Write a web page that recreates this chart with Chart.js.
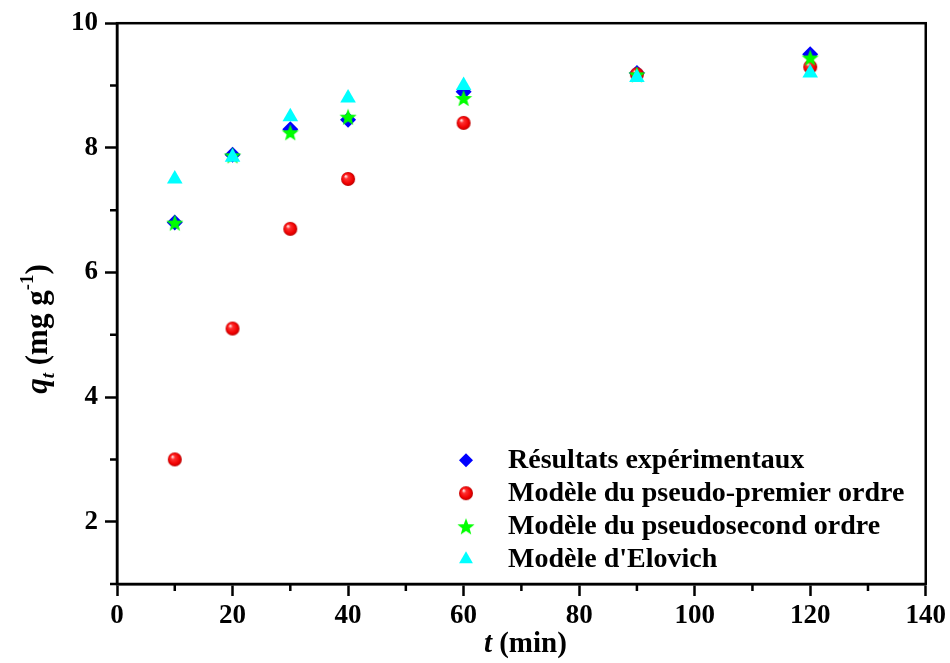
<!DOCTYPE html>
<html>
<head>
<meta charset="utf-8">
<script src="https://cdn.jsdelivr.net/npm/chart.js@4.4.1/dist/chart.umd.min.js"></script>
<style>
  html, body { margin: 0; padding: 0; background: #fff; }
</style>
</head>
<body>
<canvas id="kinetics" width="950" height="663"></canvas>
<script>
// values
const times = [10, 20, 30, 40, 60, 90, 120];
const experimental = [6.80, 7.89, 8.30, 8.45, 8.90, 9.20, 9.50];
const pseudoFirst = [3.00, 5.10, 6.70, 7.50, 8.40, 9.18, 9.30];
const pseudoSecond = [6.80, 7.88, 8.25, 8.50, 8.80, 9.18, 9.45];
const elovich = [7.50, 7.85, 8.50, 8.80, 9.00, 9.13, 9.20];
const seriesLabels = [
    'Résultats expérimentaux',
    'Modèle du pseudo-premier ordre',
    'Modèle du pseudosecond ordre',
    "Modèle d'Elovich"
];
const xLabeled = [0, 20, 40, 60, 80, 100, 120, 140];
const yLabeled = [2, 4, 6, 8, 10];

const SERIF = '"Liberation Serif", "Times New Roman", serif';

function makeSphere(r) {
    const c = document.createElement('canvas');
    c.width = c.height = 2 * r + 2;
    const g = c.getContext('2d');
    const m = r + 1;
    const grad = g.createRadialGradient(m - r * 0.35, m - r * 0.4, 0.5, m, m, r);
    grad.addColorStop(0, '#ffe0e0');
    grad.addColorStop(0.25, '#ff3030');
    grad.addColorStop(0.75, '#f00000');
    grad.addColorStop(1, '#b80000');
    g.fillStyle = grad;
    g.beginPath();
    g.arc(m, m, r, 0, Math.PI * 2);
    g.fill();
    return c;
}

function makeStar(r, color) {
    const c = document.createElement('canvas');
    c.width = c.height = 2 * r + 2;
    const g = c.getContext('2d');
    const m = r + 1;
    g.fillStyle = color;
    g.beginPath();
    for (let i = 0; i < 10; i++) {
        const rad = i % 2 === 0 ? r : r * 0.42;
        const a = -Math.PI / 2 + i * Math.PI / 5;
        const px = m + Math.cos(a) * rad;
        const py = m + 1 + Math.sin(a) * rad;
        if (i === 0) g.moveTo(px, py); else g.lineTo(px, py);
    }
    g.closePath();
    g.fill();
    return c;
}

const sphere = makeSphere(7);
const star = makeStar(9, '#00ff00');

function toPoints(values) {
    return times.map((t, i) => ({ x: t, y: values[i] }));
}

// draws a run of text pieces (italic / sub / sup) centred on cx
function drawRich(ctx, parts, cx, baseY) {
    let total = 0;
    parts.forEach(p => {
        ctx.font = `${p.italic ? 'italic ' : ''}bold ${p.size}px ${SERIF}`;
        p.w = ctx.measureText(p.text).width;
        total += p.w;
    });
    let x = cx - total / 2;
    parts.forEach(p => {
        ctx.font = `${p.italic ? 'italic ' : ''}bold ${p.size}px ${SERIF}`;
        ctx.fillText(p.text, x, baseY + (p.dy || 0));
        x += p.w;
    });
}

const decorations = {
    id: 'decorations',
    beforeDatasetsDraw(chart) {
        const { ctx, chartArea: a, scales: { x, y } } = chart;
        ctx.save();
        ctx.strokeStyle = '#000';
        ctx.lineWidth = 2.5;
        ctx.strokeRect(a.left, a.top, a.right - a.left, a.bottom - a.top);
        // minor ticks
        ctx.beginPath();
        x.ticks.forEach(t => {
            if (!xLabeled.includes(t.value)) {
                const px = x.getPixelForValue(t.value);
                ctx.moveTo(px, a.bottom);
                ctx.lineTo(px, a.bottom + 7);
            }
        });
        y.ticks.forEach(t => {
            if (!yLabeled.includes(t.value)) {
                const py = y.getPixelForValue(t.value);
                ctx.moveTo(a.left, py);
                ctx.lineTo(a.left - 7, py);
            }
        });
        ctx.stroke();
        ctx.restore();
    },
    afterDraw(chart) {
        const { ctx, chartArea: a } = chart;
        ctx.save();
        ctx.fillStyle = '#000';
        ctx.textBaseline = 'alphabetic';
        ctx.textAlign = 'left';

        // x title: t (min)
        drawRich(ctx, [
            { text: 't', italic: true, size: 29 },
            { text: ' (min)', size: 29 }
        ], (a.left + a.right) / 2 + 4, 652);

        // y title: q_t (mg g^-1)
        ctx.save();
        ctx.translate(47, 329);
        ctx.rotate(-Math.PI / 2);
        drawRich(ctx, [
            { text: 'q', italic: true, size: 31 },
            { text: 't', italic: true, size: 19, dy: 7 },
            { text: ' (mg g', size: 31 },
            { text: '-1', size: 19, dy: -14 },
            { text: ')', size: 31 }
        ], 0, 0);
        ctx.restore();

        // legend inside the plot
        const lx = a.left + 349;
        const tx = a.left + 391;
        ctx.font = `bold 28px ${SERIF}`;
        ctx.textBaseline = 'middle';
        chart.data.datasets.forEach((ds, i) => {
            const ly = a.top + 437 + i * 33;
            ctx.fillStyle = ds.backgroundColor;
            Chart.helpers.drawPoint(ctx, {
                pointStyle: ds.pointStyle,
                radius: ds.legendRadius,
                rotation: 0,
                borderWidth: 0
            }, lx, ly);
            ctx.fillStyle = '#000';
            ctx.fillText(ds.label, tx, ly + 1);
        });
        ctx.restore();
    }
};

const tickFont = { family: SERIF, weight: 'bold', size: 27 };

new Chart(document.getElementById('kinetics'), {
    type: 'scatter',
    data: {
        datasets: [
            {
                label: seriesLabels[0],
                data: toPoints(experimental),
                pointStyle: 'rectRot',
                pointRadius: 8,
                legendRadius: 7,
                pointBorderWidth: 0,
                backgroundColor: '#0000ff',
                borderColor: '#0000ff',
                order: 4
            },
            {
                label: seriesLabels[1],
                data: toPoints(pseudoFirst),
                pointStyle: sphere,
                pointRadius: 7,
                legendRadius: 7,
                pointBorderWidth: 0,
                backgroundColor: '#ff0000',
                borderColor: '#ff0000',
                order: 3
            },
            {
                label: seriesLabels[2],
                data: toPoints(pseudoSecond),
                pointStyle: star,
                pointRadius: 9,
                legendRadius: 9,
                pointBorderWidth: 0,
                backgroundColor: '#00ff00',
                borderColor: '#00ff00',
                order: 2
            },
            {
                label: seriesLabels[3],
                data: toPoints(elovich),
                pointStyle: 'triangle',
                pointRadius: 9,
                legendRadius: 8,
                pointBorderWidth: 0,
                backgroundColor: '#00ffff',
                borderColor: '#00ffff',
                order: 1
            }
        ]
    },
    options: {
        responsive: false,
        animation: false,
        devicePixelRatio: 1,
        layout: { padding: { top: 22, right: 22, left: 0, bottom: 0 } },
        plugins: {
            legend: { display: false },
            tooltip: { enabled: false }
        },
        scales: {
            x: {
                type: 'linear',
                min: 0,
                max: 140,
                afterFit: s => { s.height = 79; },
                ticks: {
                    stepSize: 10,
                    autoSkip: false,
                    maxRotation: 0,
                    padding: 4,
                    color: '#000',
                    font: tickFont,
                    callback: v => xLabeled.includes(v) ? String(v) : ''
                },
                grid: {
                    drawOnChartArea: false,
                    tickLength: 12,
                    tickWidth: 2.5,
                    tickColor: c => xLabeled.includes(c.tick.value) ? '#000' : 'rgba(0,0,0,0)'
                },
                border: { color: '#000', width: 2.5 }
            },
            y: {
                min: 1,
                max: 10,
                afterFit: s => { s.width = 117; },
                ticks: {
                    stepSize: 1,
                    autoSkip: false,
                    padding: 7,
                    color: '#000',
                    font: tickFont,
                    callback: v => yLabeled.includes(v) ? String(v) : ''
                },
                grid: {
                    drawOnChartArea: false,
                    tickLength: 12,
                    tickWidth: 2.5,
                    tickColor: c => yLabeled.includes(c.tick.value) ? '#000' : 'rgba(0,0,0,0)'
                },
                border: { color: '#000', width: 2.5 }
            }
        }
    },
    plugins: [decorations]
});
</script>
</body>
</html>
